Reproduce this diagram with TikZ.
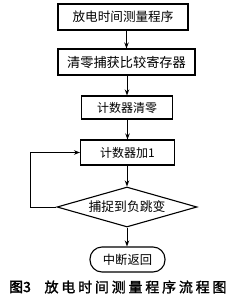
\documentclass[tikz,border=0pt]{standalone}
\usepackage{fontspec}
\setmainfont{Noto Sans CJK SC}
\newfontfamily\capfont[LetterSpace=20,FakeBold=1.5]{Noto Sans CJK SC}
\newfontfamily\capfontb[FakeBold=2.5]{Noto Sans CJK SC}
\usetikzlibrary{shapes.geometric,arrows.meta}
\begin{document}
\begin{tikzpicture}[x=1pt,y=-1pt,
  boxst/.style={draw,line width=1.1pt,rectangle,inner sep=0pt,font=\fontsize{12}{12}\selectfont},
  arr/.style={line width=1.0pt,-{Stealth[length=6pt,width=4.5pt]}},
  lineln/.style={line width=1.0pt}]
\useasboundingbox (0,0) rectangle (230,303);
\node[boxst,minimum width=130pt,minimum height=26pt,font=\fontsize{12.6}{12.6}\selectfont] (b1) at (123,17) {放电时间测量程序};
\node[boxst,minimum width=137pt,minimum height=26pt,font=\fontsize{13.2}{13.2}\selectfont] (b2) at (126.5,62) {清零捕获比较寄存器};
\node[boxst,minimum width=91pt,minimum height=23pt] (b3) at (127,107.5) {计数器清零};
\node[boxst,minimum width=94pt,minimum height=25pt] (b4) at (127.5,152.5) {计数器加1};
\node[draw,line width=1.1pt,diamond,aspect=3.5,inner sep=0pt,minimum width=140pt,minimum height=40pt,font=\fontsize{12.8}{12.8}\selectfont] (d) at (127,207) {捕捉到负跳变};
\node[draw,line width=1.1pt,rounded corners=12pt,minimum width=75pt,minimum height=25pt,inner sep=0pt,font=\fontsize{12.3}{12.3}\selectfont] (t) at (127.5,259.5) {中断返回};
\coordinate (lx) at (30,0);
\draw[arr] (b1.south -| b2.north) -- (b2.north);
\draw[arr] (b2.south -| b3.north) -- (b3.north);
\draw[arr] (b3.south -| b4.north) -- (b4.north);
\draw[arr] (b4.south -| d.north) -- (d.north);
\draw[arr] (d.south) -- (d.south |- t.north);
\draw[arr] (d.west) -| (lx |- b4.west) -- (b4.west);
\node[font=\capfontb\fontsize{14}{14}\selectfont] (c1) at (20,287) {图3};
\node[font=\capfont\fontsize{14}{14}\selectfont,anchor=west] (c2) at (41,287) {放电时间测量程序流程图};
\end{tikzpicture}
\end{document}
